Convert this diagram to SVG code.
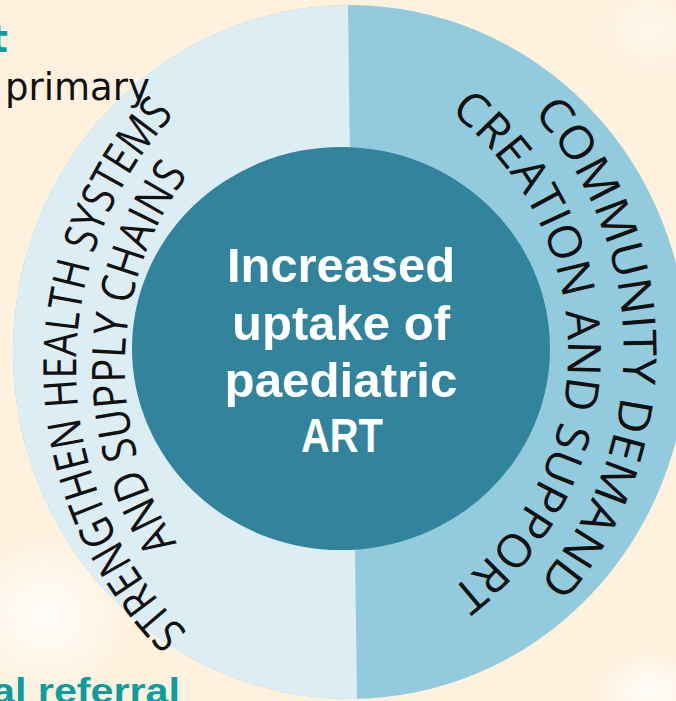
<svg xmlns="http://www.w3.org/2000/svg" width="676" height="701" viewBox="0 0 676 701">
<style>
.arc{font-family:"Open Sans","Liberation Sans",sans-serif;font-weight:400;font-size:46px;fill:#111}
.ctr{font-family:"Liberation Sans",Arial,sans-serif;font-weight:bold;font-size:48px;fill:#fff;text-anchor:middle}
.frag{font-family:"DejaVu Sans",Verdana,sans-serif}
</style>
<defs>
<radialGradient id="haze" cx="0.5" cy="0.5" r="0.5">
<stop offset="0" stop-color="#fff" stop-opacity="0.85"/>
<stop offset="1" stop-color="#fff" stop-opacity="0"/>
</radialGradient>
<clipPath id="leftHalf"><polygon points="0,0 347.9,0 357,701 0,701"/></clipPath>
<path id="pLO" d="M187.5,632 A372,372 0 0 1 210.88,80.03"/>
<path id="pLI" d="M177,543 A323,323 0 0 1 221.6,136.6"/>
<path id="pRO" d="M533,113 A357,357 0 0 1 494.48,625.48"/>
<path id="pRI" d="M450,112 A302,302 0 0 1 416,613.54"/>
</defs>
<rect x="0" y="0" width="676" height="701" fill="#FEF1DD"/>
<ellipse cx="45" cy="615" rx="95" ry="85" fill="url(#haze)"/>
<ellipse cx="650" cy="690" rx="60" ry="40" fill="url(#haze)"/>
<ellipse cx="650" cy="30" rx="60" ry="50" fill="url(#haze)" opacity="0.5"/>

<g id="ring">
<ellipse cx="350" cy="352" rx="337" ry="347" fill="#92CBDD"/>
<ellipse cx="350" cy="352" rx="337" ry="347" fill="#DCEEF4" clip-path="url(#leftHalf)"/>
</g>

<g id="core">
<ellipse cx="341" cy="348.5" rx="209" ry="201.5" fill="#31849C"/>
<text class="ctr" x="341" y="282" textLength="228" lengthAdjust="spacingAndGlyphs">Increased</text>
<text class="ctr" x="341" y="340" textLength="218" lengthAdjust="spacingAndGlyphs">uptake of</text>
<text class="ctr" x="341" y="397" textLength="233" lengthAdjust="spacingAndGlyphs">paediatric</text>
<text class="ctr" x="342" y="452" textLength="82" lengthAdjust="spacingAndGlyphs">ART</text>
</g>

<g id="health-systems">
<text class="arc"><textPath href="#pLO" textLength="572" lengthAdjust="spacingAndGlyphs">STRENGTHEN HEALTH SYSTEMS</textPath></text>
<text class="arc"><textPath href="#pLI" textLength="392" lengthAdjust="spacingAndGlyphs">AND SUPPLY CHAINS</textPath></text>
</g>

<g id="community">
<text class="arc"><textPath href="#pRO" textLength="512" lengthAdjust="spacingAndGlyphs">COMMUNITY DEMAND</textPath></text>
<text class="arc"><textPath href="#pRI" textLength="553" lengthAdjust="spacingAndGlyphs">CREATION AND SUPPORT</textPath></text>
</g>

<g id="fragments">
<text class="frag" x="8" y="52" font-size="38" font-weight="bold" fill="#0A9E9E" text-anchor="end">t</text>
<text class="frag" x="5" y="100" font-size="37" fill="#111">primary</text>
<text x="180" y="703" font-family="Liberation Sans, Arial, sans-serif" font-size="35" font-weight="bold" fill="#0A9E9E" text-anchor="end" textLength="188" lengthAdjust="spacingAndGlyphs">al referral</text>
</g>
<g id="connectors"/>
</svg>
